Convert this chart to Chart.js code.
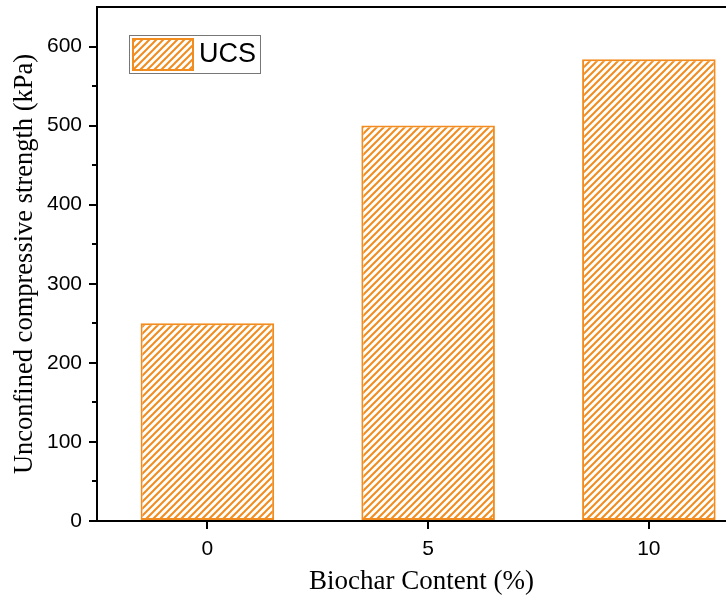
<!DOCTYPE html>
<html>
<head>
<meta charset="utf-8">
<script src="https://cdn.jsdelivr.net/npm/chart.js@4.4.0/dist/chart.umd.min.js"></script>
<style>
  html, body { margin: 0; padding: 0; background: #fff; overflow: hidden; width: 726px; height: 602px; }
</style>
</head>
<body>
<canvas id="ucsChart" width="746" height="602"></canvas>
<script>
// data
const biocharContent = [0, 5, 10];           // %
const ucsValues = [250, 500, 584];           // kPa
const yTicks = [0, 100, 200, 300, 400, 500, 600];
const yMinorTicks = [50, 150, 250, 350, 450, 550];

const ORANGE = '#F28C1E';
const sansFont = "'Liberation Sans', Arial, sans-serif";
const serifFont = "'Liberation Serif', 'Times New Roman', serif";

// diagonal hatch fill like the Origin pattern
function makeHatch(color) {
    const size = 7;
    const c = document.createElement('canvas');
    c.width = size;
    c.height = size;
    const g = c.getContext('2d');
    g.fillStyle = '#fff';
    g.fillRect(0, 0, size, size);
    g.strokeStyle = color;
    g.lineWidth = 2;
    g.beginPath();
    g.moveTo(-1, size + 1); g.lineTo(size + 1, -1);
    g.moveTo(-1, 1); g.lineTo(1, -1);
    g.moveTo(size - 1, size + 1); g.lineTo(size + 1, size - 1);
    g.stroke();
    return g.createPattern(c, 'repeat');
}
const hatch = makeHatch(ORANGE);

// top frame line, minor y ticks and the inset legend
const framePlugin = {
    id: 'frame',
    afterDraw(chart) {
        const ctx = chart.ctx;
        const area = chart.chartArea;
        const y = chart.scales.y;
        ctx.save();
        ctx.strokeStyle = '#000';
        ctx.lineWidth = 2;
        ctx.beginPath();
        ctx.moveTo(area.left - 1, area.top);
        ctx.lineTo(area.right, area.top);
        ctx.stroke();

        ctx.beginPath();
        yMinorTicks.forEach(v => {
            const py = Math.round(y.getPixelForValue(v));
            ctx.moveTo(area.left - 5, py);
            ctx.lineTo(area.left, py);
        });
        ctx.stroke();

        // legend box
        const lx = area.left + 32, ly = area.top + 28;
        ctx.lineWidth = 1;
        ctx.strokeStyle = '#777';
        ctx.strokeRect(lx + 0.5, ly + 0.5, 131, 38);
        ctx.fillStyle = hatch;
        ctx.fillRect(lx + 4, ly + 4, 60, 31);
        ctx.strokeStyle = ORANGE;
        ctx.lineWidth = 2;
        ctx.strokeRect(lx + 4, ly + 4, 60, 31);
        ctx.fillStyle = '#000';
        ctx.font = '27px ' + sansFont;
        ctx.textBaseline = 'middle';
        ctx.fillText(chart.data.datasets[0].label, lx + 70, ly + 20);
        ctx.restore();
    }
};

const ctx = document.getElementById('ucsChart').getContext('2d');
const ucsChart = new Chart(ctx, {
    type: 'bar',
    data: {
        datasets: [{
            label: 'UCS',
            data: biocharContent.map((x, i) => ({ x: x, y: ucsValues[i] })),
            backgroundColor: hatch,
            borderColor: ORANGE,
            borderWidth: 2,
            borderSkipped: false,
            barPercentage: 0.605,
            categoryPercentage: 1
        }]
    },
    options: {
        responsive: false,
        animation: false,
        devicePixelRatio: 1,
        layout: { padding: { top: 7, left: 0, right: 0, bottom: 0 } },
        plugins: {
            legend: { display: false },
            tooltip: { enabled: false }
        },
        scales: {
            x: {
                type: 'linear',
                offset: false,
                min: -2.5,
                max: 12.2,
                afterBuildTicks: scale => { scale.ticks = biocharContent.map(v => ({ value: v })); },
                afterFit: scale => { scale.height = 81; scale.paddingLeft = 0; scale.paddingRight = 0; },
                grid: { offset: false, drawOnChartArea: false, drawTicks: true, tickLength: 8, color: '#000', lineWidth: 2 },
                border: { display: true, color: '#000', width: 2 },
                ticks: { color: '#000', padding: 8, font: { family: sansFont, size: 21 } },
                title: {
                    display: true,
                    text: 'Biochar Content (%)',
                    color: '#000',
                    font: { family: serifFont, size: 27, lineHeight: 1 },
                    padding: { top: 0, bottom: 7 }
                }
            },
            y: {
                min: 0,
                max: 650,
                afterBuildTicks: scale => { scale.ticks = yTicks.map(v => ({ value: v })); },
                afterFit: scale => { scale.width = 97; scale.paddingTop = 0; scale.paddingBottom = 0; },
                grid: { drawOnChartArea: false, drawTicks: true, tickLength: 8, color: '#000', lineWidth: 2 },
                border: { display: true, color: '#000', width: 2 },
                ticks: { color: '#000', padding: 7, font: { family: sansFont, size: 21 } },
                title: {
                    display: true,
                    text: 'Unconfined compressive strength (kPa)',
                    color: '#000',
                    font: { family: serifFont, size: 26.5, lineHeight: 1 },
                    padding: { top: 12, bottom: 0 }
                }
            }
        }
    },
    plugins: [framePlugin]
});
</script>
</body>
</html>
